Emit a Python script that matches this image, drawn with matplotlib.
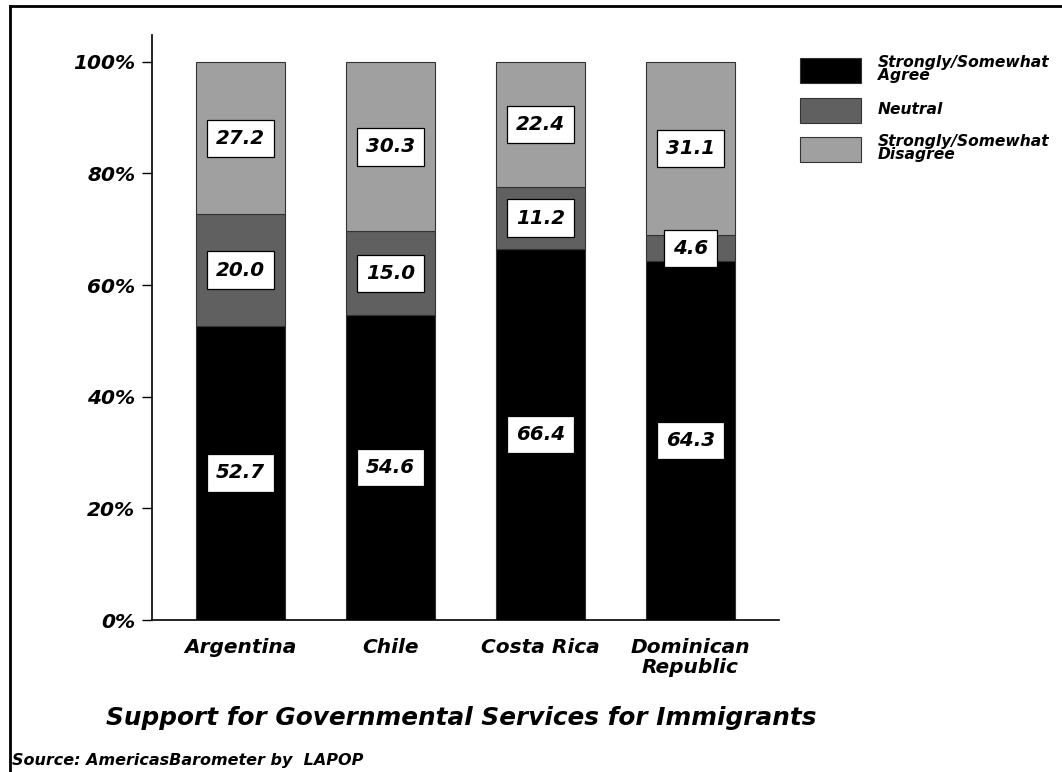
import matplotlib
matplotlib.use("Agg")
import matplotlib.pyplot as plt
from matplotlib.lines import Line2D
from matplotlib.patches import Rectangle
import numpy as np

plt.rcParams['font.family'] = ['DejaVu Sans']
plt.rcParams['font.weight'] = 'bold'
plt.rcParams['font.style'] = 'italic'

# Data
countries = ['Argentina', 'Chile', 'Costa Rica', 'Dominican\nRepublic']
agree = [52.7, 54.6, 66.4, 64.3]
neutral = [20.0, 15.0, 11.2, 4.6]
disagree = [27.2, 30.3, 22.4, 31.1]
series_names = ['Strongly/Somewhat\nAgree', 'Neutral', 'Strongly/Somewhat\nDisagree']
colors = ['#000000', '#606060', '#a0a0a0']
yticks = [0, 20, 40, 60, 80, 100]

W, H = 1062, 772
fig = plt.figure(figsize=(W / 100, H / 100), dpi=100)
ax = fig.add_axes([152 / W, 1 - 620 / H, (779 - 152) / W, (620 - 35) / H])

x = np.arange(len(countries))
width = 0.593
bottom = np.zeros(len(countries))
for vals, col in zip([agree, neutral, disagree], colors):
    vals = np.array(vals)
    ax.bar(x, vals, width, bottom=bottom, color=col, edgecolor='#333333', linewidth=0.8)
    for xi, b, v in zip(x, bottom, vals):
        ax.text(xi, b + v / 2, f'{v:.1f}', ha='center', va='center', fontsize=14.3,
                bbox=dict(boxstyle='square,pad=0.46', facecolor='white', edgecolor='black', linewidth=0.9))
    bottom += vals

ax.set_xlim(-0.59, 3.59)
ax.set_ylim(0, 104.8)
ax.set_yticks(yticks)
ax.set_yticklabels([f'{t}%' for t in yticks], fontsize=14.5)
ax.set_xticks(x)
ax.set_xticklabels(countries, fontsize=14.5, linespacing=1.05)
ax.tick_params(axis='y', direction='out', length=7, width=1, pad=5)
ax.tick_params(axis='x', length=0, pad=13)
for s in ['top', 'right']:
    ax.spines[s].set_visible(False)
for s in ['left', 'bottom']:
    ax.spines[s].set_linewidth(1.2)

# legend drawn by hand: patch boxes and labels
patch_tops = [58, 98, 137]
for top, col, name in zip(patch_tops, colors, series_names):
    fig.add_artist(Rectangle((800 / W, 1 - (top + 25) / H), 61 / W, 25 / H,
                             facecolor=col, edgecolor='#333333', linewidth=0.8,
                             transform=fig.transFigure))
    fig.text(878 / W, 1 - (top + 11) / H, name, ha='left', va='center', fontsize=11.2, linespacing=0.85)

fig.text(461 / W, 1 - 718 / H, 'Support for Governmental Services for Immigrants',
         ha='center', va='center', fontsize=17.8)
fig.text(12 / W, 1 - 760 / H, 'Source: AmericasBarometer by  LAPOP',
         ha='left', va='center', fontsize=11.5)

# figure frame (top and left edges)
fig.add_artist(Line2D([10 / W, 10 / W], [0, 1 - 6 / H], color='black', linewidth=2))
fig.add_artist(Line2D([10 / W, 1], [1 - 6 / H, 1 - 6 / H], color='black', linewidth=2))

fig.savefig('out.png', dpi=100)
